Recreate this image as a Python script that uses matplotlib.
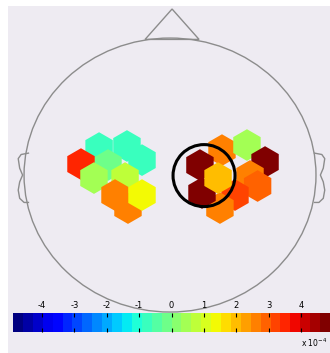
import numpy as np
import matplotlib
matplotlib.use("Agg")
import matplotlib.pyplot as plt
from matplotlib.patches import Ellipse, Polygon
from matplotlib.colors import Normalize
from matplotlib.cm import ScalarMappable

plt.rcParams['axes.unicode_minus'] = False

# Electrode positions (head units, nose up, radius 1) and values (x 1e-4).
left_x = [-0.486, -0.295, -0.192, -0.425, -0.610, -0.521, -0.308, -0.377, -0.288, -0.192]
left_y = [0.197, 0.212, 0.109, 0.073, 0.080, -0.022, -0.022, -0.146, -0.241, -0.146]
left_val = [-0.9, -0.9, -0.8, -0.2, 3.4, 0.6, 0.8, 2.6, 2.6, 1.5]

right_x = [0.356, 0.527, 0.651, 0.548, 0.600, 0.445, 0.342, 0.205, 0.219, 0.329]
right_y = [0.182, 0.219, 0.095, -0.007, -0.080, -0.146, -0.241, 0.073, -0.131, -0.022]
right_val = [2.7, 0.6, 4.6, 2.5, 2.9, 3.2, 2.7, 4.6, 4.6, 1.9]

vmin, vmax = -4.9, 4.9
ticks = [-4, -3, -2, -1, 0, 1, 2, 3, 4]

# Region of interest circle (head units, radius in px)
roi_x, roi_y, roi_r = 0.233, -0.004, 31

bg = '#eeebf2'
line_col = '#8c8c8c'
cmap = plt.get_cmap('jet', 32)
norm = Normalize(vmin, vmax)

fig = plt.figure(figsize=(3.3, 3.53), dpi=100)
ax = fig.add_axes([8/330, 0, 322/330, 347/353], facecolor=bg)
ax.set_xlim(-1.110, 1.096)
ax.set_ylim(-1.299, 1.234)
ax.set_xticks([])
ax.set_yticks([])
for s in ax.spines.values():
    s.set_visible(False)

# Head outline
ax.add_patch(Ellipse((0, 0), 2, 2, fill=False, ec=line_col, lw=1.0))
nose = np.array([[-0.171, 0.99], [0.014, 1.212], [0.199, 0.99]])
ax.add_patch(Polygon(nose, closed=True, fill=False, ec=line_col, lw=1.0))
ear = np.array([[-0.97, 0.16], [-1.02, 0.15], [-1.04, 0.12], [-1.03, 0.05],
                [-1.01, 0.00], [-1.03, -0.05], [-1.04, -0.11], [-1.03, -0.17],
                [-1.00, -0.20], [-0.97, -0.20]])
ax.plot(ear[:, 0], ear[:, 1], color=line_col, lw=1.0)
ax.plot(-ear[:, 0] + 0.02, ear[:, 1], color=line_col, lw=1.0)

# Hexagonal patches
ax.scatter(left_x, left_y, c=left_val, cmap=cmap, norm=norm, marker='h',
           s=520, linewidths=0, zorder=3)
ax.scatter(right_x, right_y, c=right_val, cmap=cmap, norm=norm, marker='h',
           s=520, linewidths=0, zorder=3)

# ROI circle
ax.add_patch(Ellipse((roi_x, roi_y), 2*roi_r/146, 2*roi_r/137, fill=False,
                     ec='black', lw=2.2, zorder=4))

# Colorbar
cax = fig.add_axes([13/330, 21/353, 317/330, 19/353])
cb = fig.colorbar(ScalarMappable(norm=norm, cmap=cmap), cax=cax,
                  orientation='horizontal', ticks=ticks)
cb.outline.set_visible(False)
cax.tick_params(axis='x', direction='in', top=True, bottom=True,
                labeltop=True, labelbottom=False, labelsize=6, length=3,
                width=0.8, pad=2)
cb.ax.set_xticklabels([str(t) for t in ticks])
fig.text(327/330, 1 - 343/353, r'x 10$^{-4}$', fontsize=5.5, ha='right',
         va='center')

fig.savefig('out.png', dpi=100)
